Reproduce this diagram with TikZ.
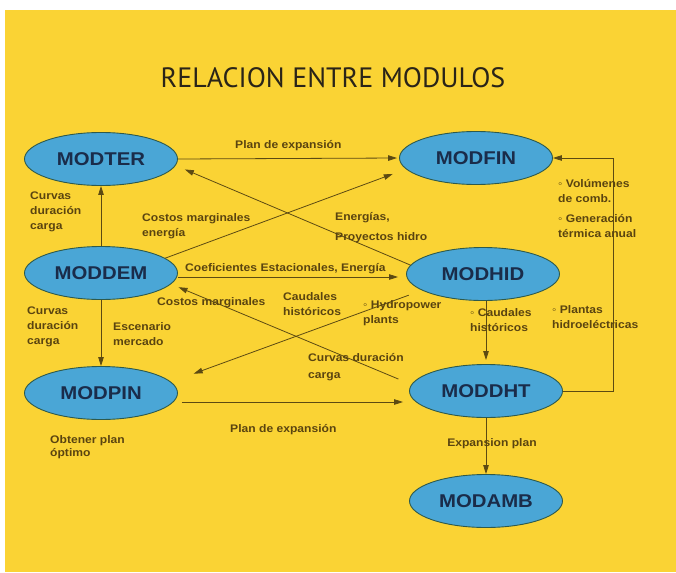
\documentclass[tikz,border=0pt]{standalone}
\usepackage{fontspec}
\setmainfont{Liberation Sans}
\newfontfamily\rotulo{Liberation Sans}[FakeStretch=1.1]
\newfontfamily\titular{PT Sans}
\usetikzlibrary{shapes,arrows.meta,calc}
\definecolor{amarillo}{HTML}{FAD334}
\definecolor{celeste}{HTML}{4AA6D6}
\definecolor{borde}{HTML}{2E5A4C}
\definecolor{azuloscuro}{HTML}{1A2C4A}
\definecolor{linea}{HTML}{5C4A12}
\definecolor{texto}{HTML}{5A4410}
\definecolor{titulocol}{HTML}{2A2418}

\begin{document}
\begin{tikzpicture}[x=1pt,y=-1pt,
    modulo/.style={ellipse,draw=borde,line width=0.9pt,fill=celeste,minimum width=153pt,minimum height=53pt,inner sep=0pt,text=azuloscuro,font=\rotulo\fontsize{18.5}{20}\selectfont\bfseries},
    flecha/.style={draw=linea,line width=0.8pt,-{Triangle[length=9pt,width=5.5pt]}},
    etiqueta/.style={text=texto,font=\rotulo\fontsize{11}{15}\selectfont\bfseries,inner sep=0pt,align=left}]
    \fill[white] (0,0) rectangle (676,572);
    \fill[amarillo] (5,10) rectangle (676,572);
    \useasboundingbox (0,0) rectangle (676,572);
    \node (titulo) at (333,78) [font=\titular\fontsize{28}{30}\selectfont,text=titulocol] {RELACION ENTRE MODULOS};
    \coordinate (T) at (101,159);
    \coordinate (F) at (476,158);
    \coordinate (D) at (101,273);
    \coordinate (H) at (483,274);
    \coordinate (P) at (101,393);
    \coordinate (G) at (486,391);
    \coordinate (A) at (486,501);
    \node (ter) at (T) [modulo] {MODTER};
    \node (fin) at (F) [modulo] {MODFIN};
    \node (dem) at (D) [modulo] {MODDEM};
    \node (hid) at (H) [modulo] {MODHID};
    \node (pin) at (P) [modulo] {MODPIN};
    \node (dht) at (G) [modulo] {MODDHT};
    \node (amb) at (A) [modulo] {MODAMB};
    \draw[flecha,shorten >=2pt] (ter.east) -- (fin.west);
    \draw[flecha] (dem.north) -- (ter.south);
    \draw[flecha] (dem.south) -- (pin.north);
    \draw[flecha,shorten >=14pt] (dem.13) -- (fin.189);
    \draw[flecha,shorten >=10pt] (hid.173) -- (ter.-5);
    \draw[flecha,shorten >=8pt] ([yshift=-4pt]dem.east) -- ([yshift=-4pt]dem.east -| hid.west);
    \draw[flecha,shorten <=14pt,shorten >=8pt] (dht.175) -- (dem.-9);
    \draw[flecha,shorten <=14pt,shorten >=24pt] (hid.195) -- (pin.9);
    \draw[flecha,shorten >=4pt] (hid.south -| dht.north) -- (dht.north);
    \draw[flecha,shorten <=4pt,shorten >=6pt] ([yshift=-9pt]pin.east) -- ([yshift=-9pt]pin.east -| dht.west);
    \draw[flecha] (dht.south) -- (amb.north);
    \draw[flecha] (dht.east) -- ++(50,0) |- (fin.east);
    \node (lplanA) at (235,146) [etiqueta,anchor=west] {Plan de expansión};
    \node (lcurvA) at (30,192) [etiqueta,anchor=north west] {Curvas\\duración\\carga};
    \node (lcostA) at (142,213) [etiqueta,anchor=north west] {Costos marginales\\energía};
    \node (lenerg) at (335,212) [etiqueta,anchor=north west] {Energías,\\[5pt]Proyectos hidro};
    \node (lvolum) at (558,179) [etiqueta,anchor=north west] {◦ Volúmenes\\de comb.\\[5pt]◦ Generación\\térmica anual};
    \node (lcoef) at (185,269) [etiqueta,anchor=west] {Coeficientes Estacionales, Energía};
    \node (lcostB) at (157,303) [etiqueta,anchor=west] {Costos marginales};
    \node (lcaudA) at (283,292) [etiqueta,anchor=north west] {Caudales\\históricos};
    \node (lhydro) at (363,300) [etiqueta,anchor=north west] {◦ Hydropower\\plants};
    \node (lcaudB) at (470,308) [etiqueta,anchor=north west] {◦ Caudales\\históricos};
    \node (lplant) at (552,305) [etiqueta,anchor=north west] {◦ Plantas\\hidroeléctricas};
    \node (lcurvC) at (308,353) [etiqueta,anchor=north west] {Curvas duración\\[2pt]carga};
    \node (lcurvB) at (27,307) [etiqueta,anchor=north west] {Curvas\\duración\\carga};
    \node (lescen) at (113,322) [etiqueta,anchor=north west] {Escenario\\mercado};
    \node (lobten) at (50,435) [etiqueta,anchor=north west] {Obtener plan\\[-2pt]óptimo};
    \node (lplanB) at (230,430) [etiqueta,anchor=west] {Plan de expansión};
    \node (lexpan) at (492,444) [etiqueta] {Expansion plan};
\end{tikzpicture}
\end{document}
